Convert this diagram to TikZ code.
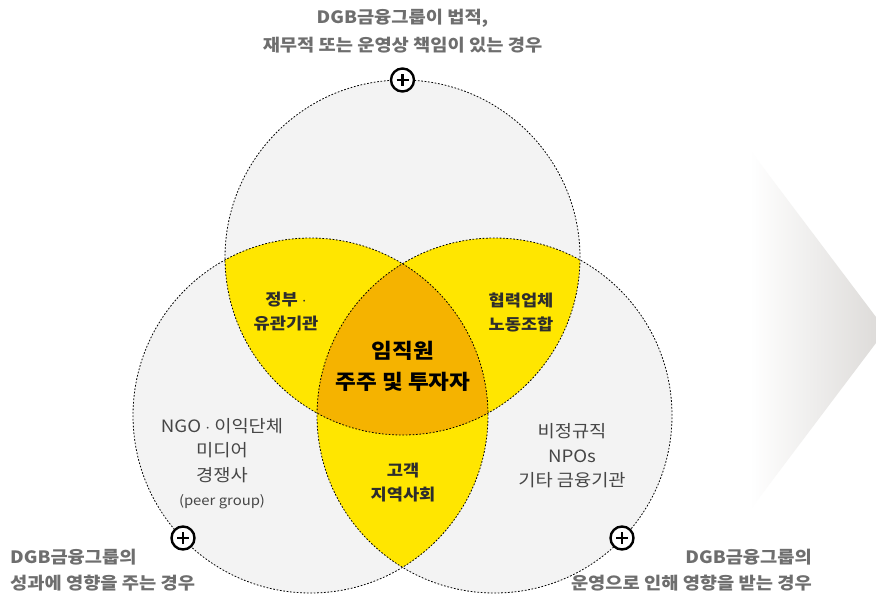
\documentclass[tikz,border=0pt]{standalone}
\usepackage{fontspec}
\setmainfont[FakeStretch=1.1]{Noto Sans CJK KR}
\definecolor{cgray}{RGB}{243,243,243}
\definecolor{cyellow}{RGB}{255,230,0}
\definecolor{corange}{RGB}{245,179,0}
\definecolor{chev}{RGB}{222,220,218}
\definecolor{outtxt}{RGB}{110,110,110}
\definecolor{graytxt}{RGB}{70,70,70}
\definecolor{darktxt}{RGB}{45,45,45}
\tikzset{
  outline/.style={draw=black, line width=0.8pt, dash pattern=on 1.7pt off 1.7pt},
  outlabel/.style={text=outtxt, font=\fontsize{17}{28}\selectfont\bfseries, inner sep=0pt},
  graylabel/.style={text=graytxt, align=center, font=\fontsize{17}{24.5}\selectfont, inner sep=0pt},
  yellowlabel/.style={text=darktxt, align=center, font=\fontsize{16}{24}\selectfont\bfseries, inner sep=0pt},
  centerlabel/.style={text=black, align=center, font=\fontsize{20.5}{31}\selectfont\bfseries, inner sep=0pt},
  plusmark/.style={circle, draw=black, line width=2.4pt, fill=white, minimum size=23pt, inner sep=0pt}
}
\begin{document}
\begin{tikzpicture}[x=1pt,y=-1pt]
\useasboundingbox (0,0) rectangle (876,594);
\fill[white] (0,0) rectangle (876,594);
% chevron
\shade[left color=white, right color=chev, shading angle=90] (750,150) -- (876,317) -- (876,343) -- (750,510) -- cycle;
\coordinate (T) at (402.5,257.5);
\coordinate (L) at (310.5,415.5);
\coordinate (R) at (494.5,415.5);
% gray circles
\fill[cgray] (T) circle[radius=177.5pt];
\fill[cgray] (L) circle[radius=177.5pt];
\fill[cgray] (R) circle[radius=177.5pt];
% pairwise intersections
\begin{scope}
  \clip (T) circle[radius=177.5pt];
  \fill[cyellow] (L) circle[radius=177.5pt];
  \fill[cyellow] (R) circle[radius=177.5pt];
\end{scope}
\begin{scope}
  \clip (L) circle[radius=177.5pt];
  \fill[cyellow] (R) circle[radius=177.5pt];
\end{scope}
\begin{scope}
  \clip (T) circle[radius=177.5pt];
  \clip (L) circle[radius=177.5pt];
  \fill[corange] (R) circle[radius=177.5pt];
\end{scope}
% outlines
\draw[outline] (T) circle[radius=177.5pt];
\draw[outline] (L) circle[radius=177.5pt];
\draw[outline] (R) circle[radius=177.5pt];
% plus marks
\foreach \n/\p in {pt/{(402.5,80)}, pl/{(183,538)}, pr/{(622,538)}} {
  \node[plusmark] (\n) at \p {};
  \draw[line width=2.5pt] ([xshift=-6pt]\n.center) -- ([xshift=6pt]\n.center);
  \draw[line width=2.5pt] ([yshift=-6pt]\n.center) -- ([yshift=6pt]\n.center);
}
% outer labels
\node[outlabel, anchor=base] (top1) at (402.5,24) {DGB금융그룹이 법적,};
\node[outlabel, anchor=base] (top2) at (402.5,52) {재무적 또는 운영상 책임이 있는 경우};
\node[outlabel, anchor=base west] (lb1) at (10,563) {DGB금융그룹의};
\node[outlabel, anchor=base west] (lb2) at (10,589) {성과에 영향을 주는 경우};
\node[outlabel, anchor=base east] (rb1) at (812,563) {DGB금융그룹의};
\node[outlabel, anchor=base east] (rb2) at (812,589) {운영으로 인해 영향을 받는 경우};
% region labels
\node[yellowlabel] (gov) at (286,312) {정부 $\cdot$\\유관기관};
\node[yellowlabel] (coop) at (521,312) {협력업체\\노동조합};
\node[centerlabel] (core) at (403,366) {임직원\\주주 및 투자자};
\node[yellowlabel] (cust) at (403,483) {고객\\지역사회};
\node[graylabel, anchor=north] (ngo) at (222,418) {NGO $\cdot$ 이익단체\\미디어\\경쟁사\\{\fontsize{13.5}{16}\selectfont (peer group)}};
\node[graylabel] (npo) at (572,456) {비정규직\\NPOs\\기타 금융기관};
\end{tikzpicture}
\end{document}
